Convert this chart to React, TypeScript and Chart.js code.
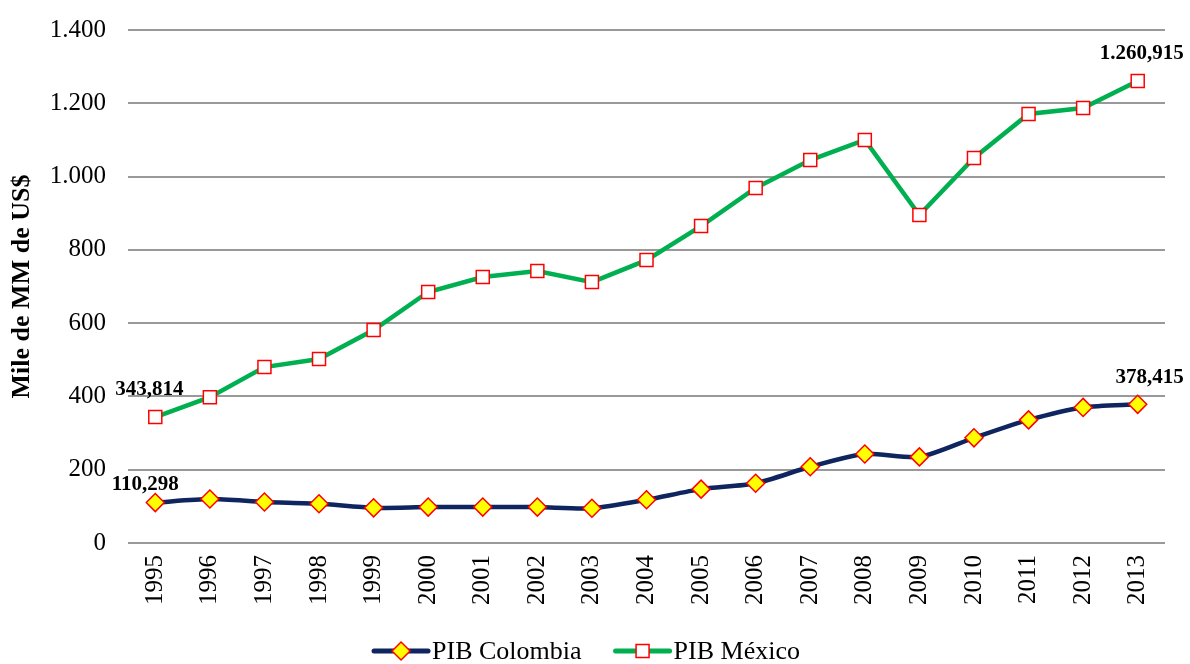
import React, { useEffect, useRef } from "react";
import { Chart, registerables } from "chart.js";

Chart.register(...registerables);

const years = ["1995","1996","1997","1998","1999","2000","2001","2002","2003","2004","2005","2006","2007","2008","2009","2010","2011","2012","2013"];
const pibColombia = [110.298,120,112,107,96,98,98,98,95,118,147,163,208,243,235,287,336,370,378.415];
const pibMexico = [343.814,398,480,502,581,685,726,742,712,772,865,969,1045,1100,895,1051,1171,1187,1260.915];
const yTicks = [0,200,400,600,800,1000,1200,1400];
// [index, dx, dy] for labelled points
const labelledColombia = [[0, -10, 13], [18, 12, 21]];
const labelledMexico = [[0, -6, 22], [18, 4, 22]];

const fmtThousands = (n: number) => String(Math.round(n)).replace(/\B(?=(\d{3})+(?!\d))/g, ".");
const fmtLabel = (n: number) => {
  const [i, d] = n.toFixed(3).split(".");
  return i.replace(/\B(?=(\d{3})+(?!\d))/g, ".") + "," + d;
};

const SERIF = "'Liberation Serif', 'Times New Roman', serif";

const labelsPlugin = {
  id: "pointLabels",
  afterDatasetsDraw(chart: any) {
    const ctx = chart.ctx;
    ctx.save();
    ctx.font = `bold 21px ${SERIF}`;
    ctx.fillStyle = "#000";
    ctx.textAlign = "center";
    ctx.textBaseline = "alphabetic";
    const sets = [labelledColombia, labelledMexico];
    chart.data.datasets.forEach((ds: any, di: number) => {
      const meta = chart.getDatasetMeta(di);
      sets[di].forEach(([idx, dx, dy]) => {
        const pt = meta.data[idx];
        const v = ds.data[idx];
        ctx.fillText(fmtLabel(v), pt.x + dx, pt.y - dy);
      });
    });
    ctx.restore();
  },
};

const legendPlugin = {
  id: "customLegend",
  afterDraw(chart: any) {
    const ctx = chart.ctx;
    ctx.save();
    ctx.font = `26px ${SERIF}`;
    ctx.textBaseline = "middle";
    ctx.fillStyle = "#000";
    const y = 651;
    const segLen = 54;
    const gapText = 4;
    const gapItems = 34;
    const items = chart.data.datasets.map((ds: any) => ({ ds, w: ctx.measureText(ds.label).width }));
    const total = items.reduce((s: number, it: any) => s + segLen + gapText + it.w, 0) + gapItems * (items.length - 1);
    let x = chart.width / 2 - total / 2 - 8;
    items.forEach((it: any) => {
      const ds = it.ds;
      ctx.strokeStyle = ds.borderColor;
      ctx.lineWidth = 5;
      ctx.lineCap = "round";
      ctx.beginPath();
      ctx.moveTo(x, y);
      ctx.lineTo(x + segLen, y);
      ctx.stroke();
      ctx.lineCap = "butt";
      const cx = x + segLen / 2;
      ctx.fillStyle = ds.pointBackgroundColor;
      ctx.strokeStyle = ds.pointBorderColor;
      ctx.lineWidth = 1.5;
      ctx.beginPath();
      if (ds.pointStyle === "rectRot") {
        const r = 9;
        ctx.moveTo(cx, y - r);
        ctx.lineTo(cx + r, y);
        ctx.lineTo(cx, y + r);
        ctx.lineTo(cx - r, y);
        ctx.closePath();
      } else {
        const s = 6.5;
        ctx.rect(cx - s, y - s, 2 * s, 2 * s);
      }
      ctx.fill();
      ctx.stroke();
      ctx.fillStyle = "#000";
      ctx.textAlign = "left";
      ctx.fillText(ds.label, x + segLen + gapText, y + 1);
      x += segLen + gapText + it.w + gapItems;
    });
    ctx.restore();
  },
};

export default function App() {
  const ref = useRef<HTMLCanvasElement>(null);
  useEffect(() => {
    document.body.style.margin = "0";
    const chart = new Chart(ref.current!, {
      type: "line",
      data: {
        labels: years,
        datasets: [
          {
            label: "PIB Colombia",
            data: pibColombia,
            borderColor: "#0f2560",
            borderWidth: 4.5,
            tension: 0.25,
            pointStyle: "rectRot",
            pointRadius: 9,
            pointBackgroundColor: "#ffff00",
            pointBorderColor: "#ff0000",
            pointBorderWidth: 1.5,
          } as any,
          {
            label: "PIB México",
            data: pibMexico,
            borderColor: "#00b050",
            borderWidth: 4.5,
            tension: 0,
            pointStyle: "rect",
            pointRadius: 9.2,
            pointBackgroundColor: "#ffffff",
            pointBorderColor: "#ff0000",
            pointBorderWidth: 1.5,
          } as any,
        ],
      },
      options: {
        animation: false,
        responsive: true,
        maintainAspectRatio: false,
        layout: { padding: { top: 30, right: 25, bottom: 0, left: 0 } },
        plugins: { legend: { display: false }, tooltip: { enabled: false } },
        scales: {
          x: {
            offset: true,
            grid: { display: false, drawTicks: false },
            border: { display: false },
            ticks: {
              minRotation: 90,
              maxRotation: 90,
              padding: 12,
              color: "#000",
              font: { family: SERIF, size: 25 },
            },
            afterFit: (s: any) => { s.height = 121; s.paddingTop = 0; },
          },
          y: {
            min: 0,
            max: 1400,
            afterBuildTicks: (s: any) => { s.ticks = yTicks.map((v) => ({ value: v })); },
            grid: { color: "#999999", lineWidth: 2, drawTicks: false },
            border: { display: false },
            ticks: {
              padding: 22,
              color: "#000",
              font: { family: SERIF, size: 25 },
              callback: (v: any) => fmtThousands(Number(v)),
            },
            title: {
              display: true,
              text: "Mile de MM de US$",
              color: "#000",
              font: { family: SERIF, size: 26, weight: "bold" },
              padding: { top: 7, bottom: 0 },
            },
            afterFit: (s: any) => { s.width = 128; s.paddingTop = 0; },
          },
        },
      },
      plugins: [labelsPlugin, legendPlugin],
    });
    return () => chart.destroy();
  }, []);
  return (
    <div style={{ width: 1190, height: 664, position: "relative" }}>
      <canvas ref={ref} />
    </div>
  );
}
